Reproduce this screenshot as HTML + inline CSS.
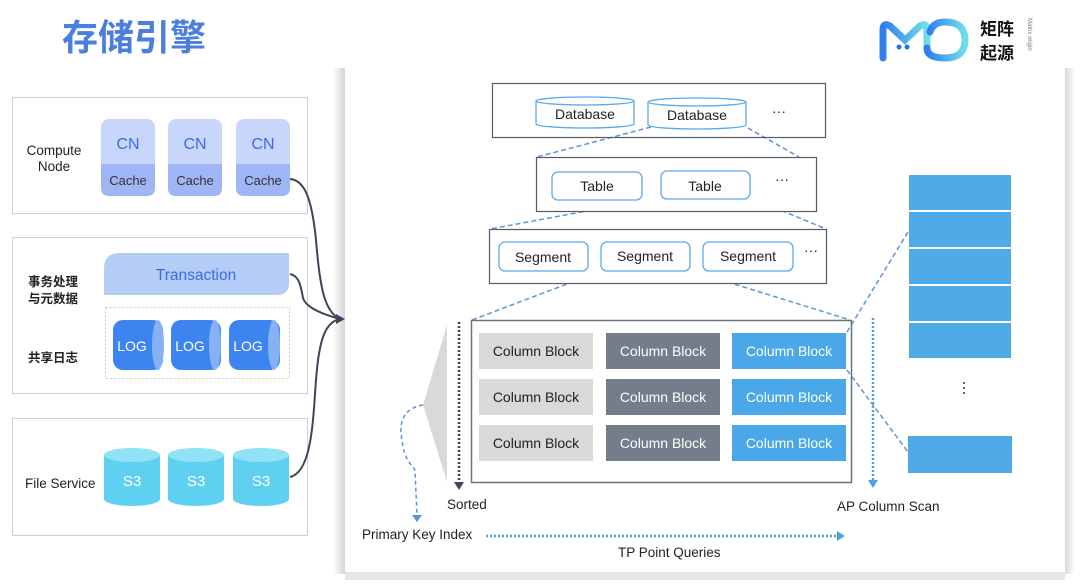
<!DOCTYPE html>
<html><head><meta charset="utf-8"><style>
html,body{margin:0;padding:0;background:#fff;width:1080px;height:588px;overflow:hidden}
svg{display:block}
text{font-family:"Liberation Sans","Noto Sans CJK SC",sans-serif}
</style></head><body>
<svg width="1080" height="588" viewBox="0 0 1080 588" xmlns="http://www.w3.org/2000/svg">
<defs>
<linearGradient id="sh" x1="0" x2="1"><stop offset="0" stop-color="#fff"/><stop offset="1" stop-color="#d4d4d4"/></linearGradient>
<linearGradient id="sh2" x1="0" x2="1"><stop offset="0" stop-color="#d8d8d8"/><stop offset="1" stop-color="#fff"/></linearGradient>
<linearGradient id="lg" x1="0" x2="1"><stop offset="0" stop-color="#2f7cf0"/><stop offset="1" stop-color="#6ee0e8"/></linearGradient>
<marker id="ad" markerWidth="8" markerHeight="8" refX="4" refY="4" orient="auto"><path d="M0,1 L8,4 L0,7z" fill="#3c4658"/></marker>
<marker id="ab" markerWidth="8" markerHeight="8" refX="4" refY="4" orient="auto"><path d="M0,1 L8,4 L0,7z" fill="#4aa3e6"/></marker>
<marker id="ab2" markerWidth="8" markerHeight="8" refX="4" refY="4" orient="auto"><path d="M0,1 L8,4 L0,7z" fill="#5b95d8"/></marker>
</defs>
<!-- title -->
<text x="62" y="50" font-size="36" font-weight="bold" fill="#4a7fe0">存储引擎</text>
<!-- logo -->
<path d="M883,58 L883,30 Q883,22 890,26 L905,40 L920,26 Q927,22 927,30 L927,48" fill="none" stroke="url(#lg)" stroke-width="7" stroke-linecap="round"/>
<circle cx="899" cy="47" r="2.5" fill="#2b6fe8"/><circle cx="907" cy="47" r="2.5" fill="#2b6fe8"/>
<path d="M927,48 Q927,58 945,58 Q965,58 965,40 Q965,22 945,22 Q933,22 930,32" fill="none" stroke="url(#lg)" stroke-width="7" stroke-linecap="round"/>
<text x="980" y="35" font-size="17" font-weight="bold" fill="#111">矩阵</text>
<text x="980" y="59" font-size="17" font-weight="bold" fill="#111">起源</text>
<text transform="translate(1028,18) rotate(90)" font-size="6" fill="#777">Matrix origin</text>
<!-- main panel -->
<rect x="333" y="68" width="12" height="506" fill="url(#sh)"/>
<rect x="1065" y="68" width="10" height="506" fill="url(#sh2)"/>
<rect x="345" y="572" width="720" height="8" fill="#e6e6e6"/>
<rect x="345" y="68" width="720" height="504" fill="#fff"/>
<!-- left boxes -->
<rect x="12.5" y="97.5" width="295" height="116" fill="#fff" stroke="#cfcfcf"/>
<rect x="12.5" y="237.5" width="295" height="156" fill="#fff" stroke="#cfcfcf"/>
<rect x="12.5" y="418.5" width="295" height="117" fill="#fff" stroke="#cfcfcf"/>
<text x="54" y="155" font-size="13.5" text-anchor="middle" fill="#222">Compute</text>
<text x="54" y="171" font-size="13.5" text-anchor="middle" fill="#222">Node</text>
<g font-size="16" text-anchor="middle">
<rect x="101" y="119" width="54" height="77" rx="8" fill="#c9d6fb"/><path d="M101,164 H155 V188 Q155,196 147,196 H109 Q101,196 101,188z" fill="#a0b5f5"/>
<text x="128" y="149" fill="#3a6ae8">CN</text><text x="128" y="185" font-size="13" fill="#333">Cache</text>
<rect x="168" y="119" width="54" height="77" rx="8" fill="#c9d6fb"/><path d="M168,164 H222 V188 Q222,196 214,196 H176 Q168,196 168,188z" fill="#a0b5f5"/>
<text x="195" y="149" fill="#3a6ae8">CN</text><text x="195" y="185" font-size="13" fill="#333">Cache</text>
<rect x="236" y="119" width="54" height="77" rx="8" fill="#c9d6fb"/><path d="M236,164 H290 V188 Q290,196 282,196 H244 Q236,196 236,188z" fill="#a0b5f5"/>
<text x="263" y="149" fill="#3a6ae8">CN</text><text x="263" y="185" font-size="13" fill="#333">Cache</text>
</g>
<text x="28" y="286" font-size="12.5" font-weight="bold" fill="#222">事务处理</text>
<text x="28" y="303" font-size="12.5" font-weight="bold" fill="#222">与元数据</text>
<text x="28" y="362" font-size="12.5" font-weight="bold" fill="#222">共享日志</text>
<path d="M120,253 H289 V283 Q289,295 277,295 H104 V269 Q104,253 120,253z" fill="#b3cdf7"/>
<text x="196" y="280" font-size="15.5" text-anchor="middle" fill="#3a6ae8">Transaction</text>
<rect x="105.5" y="307.5" width="184" height="71" fill="none" stroke="#c8c8c8" stroke-dasharray="2,2"/>
<g font-size="14" fill="#fff" text-anchor="middle">
<rect x="113" y="320" width="50" height="50" rx="10" fill="#3e84f0"/><ellipse cx="158" cy="345" rx="6" ry="25" fill="#86b2f5"/><text x="132" y="351">LOG</text>
<rect x="171" y="320" width="50" height="50" rx="10" fill="#3e84f0"/><ellipse cx="215" cy="345" rx="6" ry="25" fill="#86b2f5"/><text x="190" y="351">LOG</text>
<rect x="229" y="320" width="51" height="50" rx="10" fill="#3e84f0"/><ellipse cx="274" cy="345" rx="6" ry="25" fill="#86b2f5"/><text x="248" y="351">LOG</text>
</g>
<text x="25" y="488" font-size="13.5" fill="#222">File Service</text>
<g font-size="15" fill="#fff" text-anchor="middle">
<path d="M104,455 V499 A28,7 0 0 0 160,499 V455z" fill="#5fd0f0"/><ellipse cx="132" cy="455" rx="28" ry="7" fill="#92e2f6"/><text x="132" y="486">S3</text>
<path d="M168,455 V499 A28,7 0 0 0 224,499 V455z" fill="#5fd0f0"/><ellipse cx="196" cy="455" rx="28" ry="7" fill="#92e2f6"/><text x="196" y="486">S3</text>
<path d="M233,455 V499 A28,7 0 0 0 289,499 V455z" fill="#5fd0f0"/><ellipse cx="261" cy="455" rx="28" ry="7" fill="#92e2f6"/><text x="261" y="486">S3</text>
</g>
<!-- connectors -->
<g fill="none" stroke="#3c4658" stroke-width="2">
<path d="M290,179 C305,180 312,200 316,240 C320,290 325,312 340,319"/>
<path d="M290,274 C300,276 301,288 303,298 C306,308 325,315 340,319"/>
<path d="M290,477 C312,472 313,420 316,380 C319,340 325,322 340,319"/>
</g>
<path d="M336,314 L345,319 L336,324z" fill="#3c4658"/>
<!-- hierarchy -->
<g fill="none" stroke="#5b95d8" stroke-width="1.5" stroke-dasharray="5,3">
<path d="M651,127 L537,157"/><path d="M748,128 L799,157"/>
<path d="M662,197 L490,229"/><path d="M752,198 L826,229"/>
<path d="M604,270 L472,320"/><path d="M689,270 L850,320"/>
<path d="M847,332 L908,232"/><path d="M847,370 L908,452"/>
</g>
<rect x="492.5" y="83.5" width="333" height="54" fill="none" stroke="#555c66" stroke-width="1.2"/>
<rect x="536.5" y="157.5" width="280" height="54" fill="#fff" stroke="#555c66" stroke-width="1.2"/>
<rect x="489.5" y="229.5" width="337" height="54" fill="#fff" stroke="#555c66" stroke-width="1.2"/>
<g fill="#fff" stroke="#5aa8ec" stroke-width="1.3">
<path d="M536,101 V124 A49,4 0 0 0 634,124 V101"/><ellipse cx="585" cy="101" rx="49" ry="4"/>
<path d="M648,102 V125 A49,4 0 0 0 746,125 V102"/><ellipse cx="697" cy="102" rx="49" ry="4"/>
<rect x="552" y="172" width="90" height="28" rx="6"/><rect x="661" y="171" width="89" height="28" rx="6"/>
<rect x="499" y="242" width="89" height="29" rx="6"/><rect x="601" y="242" width="89" height="29" rx="6"/><rect x="703" y="242" width="90" height="29" rx="6"/>
</g>
<g font-size="14" fill="#222" text-anchor="middle">
<text x="585" y="119">Database</text><text x="697" y="120">Database</text>
<text x="597" y="191">Table</text><text x="705" y="191">Table</text>
<text x="543" y="262">Segment</text><text x="645" y="261">Segment</text><text x="748" y="261">Segment</text>
<text x="779" y="116">···</text><text x="782" y="184">···</text><text x="811" y="255">···</text>
</g>
<!-- column area -->
<rect x="471.5" y="320.5" width="380" height="162" fill="none" stroke="#6b7280" stroke-width="1.5"/>
<g font-size="14" text-anchor="middle">
<rect x="479" y="333" width="114" height="36" fill="#d9d9d9"/><text x="536" y="356" fill="#222">Column Block</text>
<rect x="479" y="379" width="114" height="36" fill="#d9d9d9"/><text x="536" y="402" fill="#222">Column Block</text>
<rect x="479" y="425" width="114" height="36" fill="#d9d9d9"/><text x="536" y="448" fill="#222">Column Block</text>
<rect x="606" y="333" width="114" height="36" fill="#757d8a"/><text x="663" y="356" fill="#fff">Column Block</text>
<rect x="606" y="379" width="114" height="36" fill="#757d8a"/><text x="663" y="402" fill="#fff">Column Block</text>
<rect x="606" y="425" width="114" height="36" fill="#757d8a"/><text x="663" y="448" fill="#fff">Column Block</text>
<rect x="732" y="333" width="114" height="36" fill="#4aa8e8"/><text x="789" y="356" fill="#fff">Column Block</text>
<rect x="732" y="379" width="114" height="36" fill="#4aa8e8"/><text x="789" y="402" fill="#fff">Column Block</text>
<rect x="732" y="425" width="114" height="36" fill="#4aa8e8"/><text x="789" y="448" fill="#fff">Column Block</text>
</g>
<path d="M447,325 L447,482 L423,405z" fill="#d9d9d9"/>
<path d="M459,322 V482" stroke="#3c4658" stroke-width="2.5" stroke-dasharray="2,2" fill="none"/>
<path d="M454,482 L464,482 L459,490z" fill="#3c4658"/>
<path d="M873,318 V481" stroke="#4aa3e6" stroke-width="2.5" stroke-dasharray="2,2" fill="none"/>
<path d="M868,480 L878,480 L873,488z" fill="#4aa3e6"/>
<path d="M423,405 C405,408 398,420 402,440 C404,460 412,465 415,470 L417,515" fill="none" stroke="#5b95d8" stroke-width="1.5" stroke-dasharray="4,3"/>
<path d="M412,515 L422,515 L417,522z" fill="#5b95d8"/>
<path d="M486,536 H838" stroke="#4aa3e6" stroke-width="2.5" stroke-dasharray="2,2" fill="none"/>
<path d="M837,531 L845,536 L837,541z" fill="#4aa3e6"/>
<g font-size="13.5" fill="#222">
<text x="447" y="509">Sorted</text>
<text x="837" y="511">AP Column Scan</text>
<text x="362" y="539">Primary Key Index</text>
<text x="618" y="557">TP Point Queries</text>
</g>
<!-- right stack -->
<g fill="#4fabe8">
<rect x="909" y="175" width="102" height="35"/><rect x="909" y="212" width="102" height="35"/>
<rect x="909" y="249" width="102" height="35"/><rect x="909" y="286" width="102" height="35"/>
<rect x="909" y="323" width="102" height="35"/><rect x="908" y="436" width="104" height="37"/>
</g>
<g fill="#333"><circle cx="964" cy="383" r="1"/><circle cx="964" cy="388" r="1"/><circle cx="964" cy="393" r="1"/></g>
</svg>
</body></html>
